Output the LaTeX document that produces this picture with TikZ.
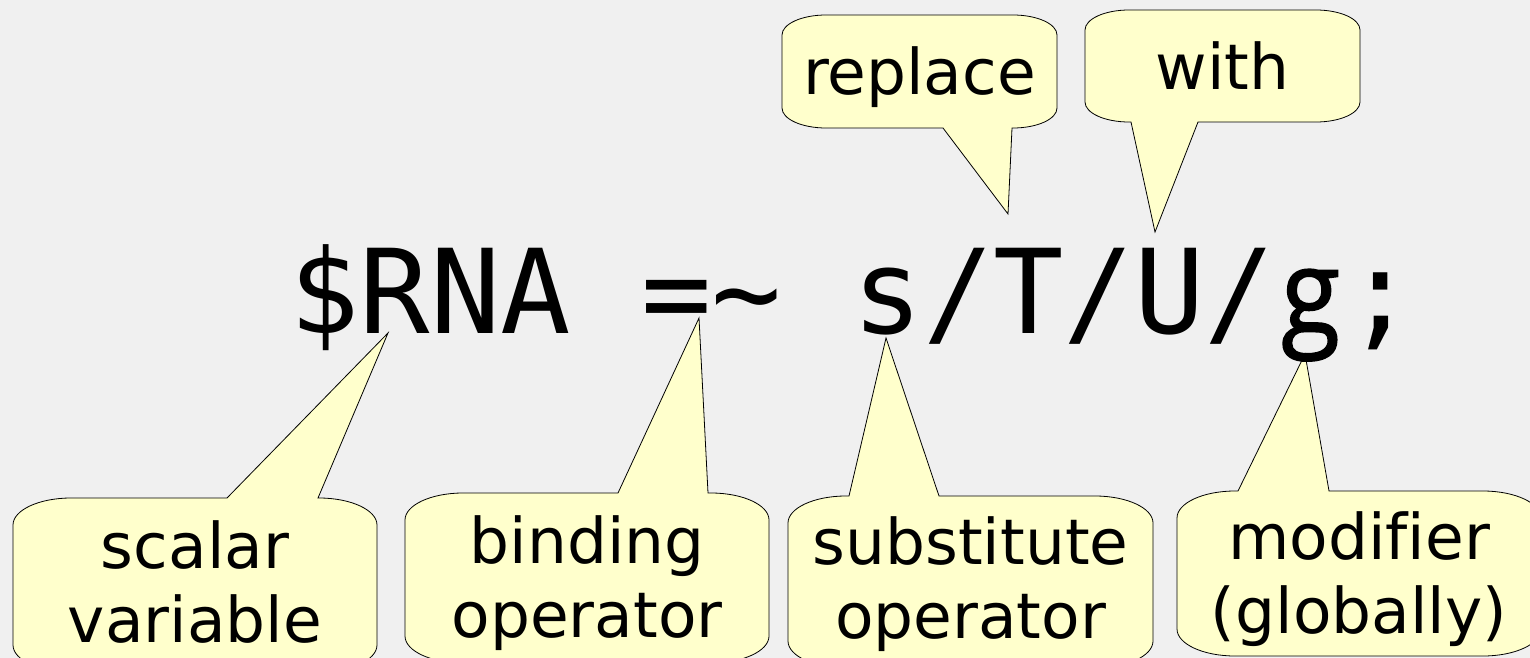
\documentclass[tikz,border=0pt]{standalone}
\usepackage{fontspec}
\setmainfont{DejaVu Sans}[Ligatures=NoCommon]
\newfontfamily\codefont{DejaVu Sans Mono}
\newfontfamily\twostory{Open Sans}[FakeBold=1.5]
\usepackage{xcolor}

\definecolor{notefill}{HTML}{FFFFCC}
\definecolor{paper}{HTML}{F0F0F0}

% two-storey g squeezed into one mono cell
\newcommand{\codeg}{\makebox[0.602em]{\twostory\scalebox{0.92}[1]{g}}}

\tikzset{
  bubble/.style={draw=black, fill=notefill, line width=0.8pt, line join=miter},
  wide/.style={x radius=58, y radius=27},
  narrow/.style={x radius=44, y radius=20},
  note/.style={font=\fontsize{63}{74}\selectfont, align=center, anchor=base, inner sep=0pt}
}

\begin{document}
\begin{tikzpicture}[x=1pt, y=-1pt]

% Paper
\fill[paper] (0,0) rectangle (1530,658);
\useasboundingbox (0,0) rectangle (1530,658);
\clip (0,0) rectangle (1530,658);

% Where the pointers touch the code
\coordinate (scalartip) at (388,333);
\coordinate (bindtip) at (699,318);
\coordinate (subtip) at (886,338);
\coordinate (modtip) at (1305,354);
\coordinate (reptip) at (1008,214);
\coordinate (withtip) at (1155,232);

% Callouts below the code
\path[bubble] (71,498) -- (227,498) -- (scalartip) -- (318,498) -- (319,498)
  arc[start angle=-90, end angle=0, wide] -- (377,645)
  arc[start angle=0, end angle=90, wide] -- (71,672)
  arc[start angle=90, end angle=180, wide] -- (13,525)
  arc[start angle=180, end angle=270, wide] -- cycle;
\path[bubble] (463,493) -- (618,493) -- (bindtip) -- (708,493) -- (711,493)
  arc[start angle=-90, end angle=0, wide] -- (769,636)
  arc[start angle=0, end angle=90, wide] -- (463,663)
  arc[start angle=90, end angle=180, wide] -- (405,520)
  arc[start angle=180, end angle=270, wide] -- cycle;
\path[bubble] (846,496) -- (849,496) -- (subtip) -- (939,496) -- (1095,496)
  arc[start angle=-90, end angle=0, wide] -- (1153,641)
  arc[start angle=0, end angle=90, wide] -- (846,668)
  arc[start angle=90, end angle=180, wide] -- (788,523)
  arc[start angle=180, end angle=270, wide] -- cycle;
\path[bubble] (1235,491) -- (1238,491) -- (modtip) -- (1329,491) -- (1483,491)
  arc[start angle=-90, end angle=0, wide] -- (1541,629)
  arc[start angle=0, end angle=90, wide] -- (1235,656)
  arc[start angle=90, end angle=180, wide] -- (1177,518)
  arc[start angle=180, end angle=270, wide] -- cycle;

% Callouts above the code
\path[bubble] (826,15) -- (1013,15)
  arc[start angle=-90, end angle=0, narrow] -- (1057,108)
  arc[start angle=0, end angle=90, narrow] -- (1012,128) -- (reptip) -- (943,128) -- (826,128)
  arc[start angle=90, end angle=180, narrow] -- (782,35)
  arc[start angle=180, end angle=270, narrow] -- cycle;
\path[bubble] (1129,10) -- (1316,10)
  arc[start angle=-90, end angle=0, narrow] -- (1360,102)
  arc[start angle=0, end angle=90, narrow] -- (1198,122) -- (withtip) -- (1131,122) -- (1129,122)
  arc[start angle=90, end angle=180, narrow] -- (1085,30)
  arc[start angle=180, end angle=270, narrow] -- cycle;

% The line of code
\node[anchor=base west, inner sep=0pt, font=\codefont\fontsize{117}{140}\selectfont]
  (code) at (289,333) {\$RNA =\textasciitilde{} s/T/U/\codeg;};

% Labels (base is the last line)
\node[note] (scalar) at (195,642) {scalar\\variable};
\node[note] (binding) at (587,637) {binding\\operator};
\node[note] (subst) at (970.5,638) {substitute\\operator};
\node[note] (modifier) at (1359,633) {modifier\\(globally)};
\node[note] (replace) at (919.5,95) {replace};
\node[note] (with) at (1222.5,90) {with};

\end{tikzpicture}
\end{document}
